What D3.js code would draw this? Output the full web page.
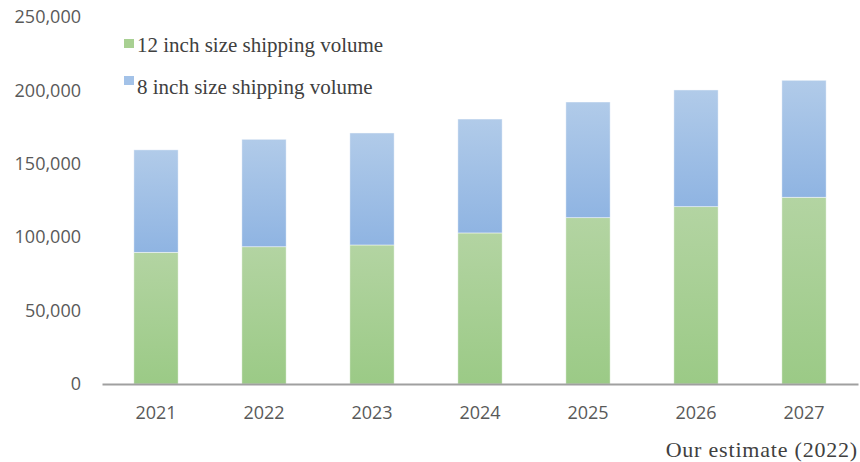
<!DOCTYPE html>
<html>
<head>
<meta charset="utf-8">
<script src="https://cdn.jsdelivr.net/npm/d3@7"></script>
<style>
  body { margin: 0; background: #fff; }
  svg { display: block; }
</style>
</head>
<body>
<svg id="chart" width="860" height="462"></svg>
<script>
// data
var years = ["2021", "2022", "2023", "2024", "2025", "2026", "2027"];
var vol12 = [89700, 93500, 94700, 102900, 113300, 120800, 127200];
var vol8 = [69800, 73200, 76300, 77600, 78800, 79500, 79700];
var yTicks = [0, 50000, 100000, 150000, 200000, 250000];
var seriesNames = ["12 inch size shipping volume", "8 inch size shipping volume"];

var svg = d3.select("#chart"),
  width = +svg.attr("width"),
  height = +svg.attr("height");

var x = d3.scaleBand().domain(years).range([102, 858]).paddingInner(0.59).paddingOuter(0.295);
var y = d3.scaleLinear().domain([0, 250000]).range([384, 17]);

// gradients like the office fill
var defs = svg.append("defs");
function grad(id, top, bottom) {
  var g = defs.append("linearGradient").attr("id", id)
    .attr("x1", 0).attr("y1", 0).attr("x2", 0).attr("y2", 1);
  g.append("stop").attr("offset", "0%").attr("stop-color", top);
  g.append("stop").attr("offset", "100%").attr("stop-color", bottom);
}
grad("gGreen", "#b3d4a2", "#9bca86");
grad("gBlue", "#b1cbe9", "#8fb4e2");

var rows = years.map(function (yr, i) { return { year: yr, v12: vol12[i], v8: vol8[i] }; });
var stack = d3.stack().keys(["v12", "v8"])(rows);
var fills = ["url(#gGreen)", "url(#gBlue)"];

svg.append("g").selectAll("g")
  .data(stack)
  .enter().append("g")
  .attr("fill", function (d, i) { return fills[i]; })
  .selectAll("rect")
  .data(function (d) { return d; })
  .enter().append("rect")
  .attr("x", function (d) { return x(d.data.year); })
  .attr("y", function (d) { return y(d[1]); })
  .attr("width", x.bandwidth())
  .attr("height", function (d) { return y(d[0]) - y(d[1]); })
  .attr("stroke", "#ffffff")
  .attr("stroke-opacity", 0.6)
  .attr("stroke-width", 0.75);

// y axis labels (no line)
var yAxis = svg.append("g").attr("transform", "translate(81,0)")
  .call(d3.axisLeft(y).tickValues(yTicks).tickSize(0).tickPadding(0)
    .tickFormat(d3.format(",")));
yAxis.select(".domain").remove();
yAxis.selectAll("text")
  .attr("font-family", "'Open Sans', sans-serif")
  .attr("font-size", 18)
  .attr("fill", "#595959");

// x axis
var xAxis = svg.append("g").attr("transform", "translate(0,384)")
  .call(d3.axisBottom(x).tickSize(0).tickPadding(22));
xAxis.select(".domain").attr("stroke", "#a0a0a0").attr("stroke-width", 2);
xAxis.selectAll("text")
  .attr("font-family", "'Open Sans', sans-serif")
  .attr("font-size", 18)
  .attr("fill", "#595959");

// legend
var legColors = ["#a8d092", "#a3c2e8"];
var leg = svg.append("g").selectAll("g")
  .data(seriesNames)
  .enter().append("g")
  .attr("transform", function (d, i) { return "translate(124," + (39 + i * 37) + ")"; });
leg.append("rect")
  .attr("width", 10).attr("height", 9)
  .attr("fill", function (d, i) { return legColors[i]; });
leg.append("text")
  .attr("x", 13).attr("y", 13)
  .attr("dy", function (d, i) { return i === 0 ? 0 : 5; })
  .attr("font-family", "'Liberation Serif', 'Times New Roman', serif")
  .attr("font-size", 21)
  .attr("fill", "#404040")
  .text(function (d) { return d; });

// source note
svg.append("text")
  .attr("x", 858).attr("y", 457)
  .attr("text-anchor", "end")
  .attr("font-family", "'Liberation Serif', 'Times New Roman', serif")
  .attr("font-size", 22)
  .attr("letter-spacing", 0.8)
  .attr("fill", "#404040")
  .text("Our estimate (2022)");
</script>
</body>
</html>
